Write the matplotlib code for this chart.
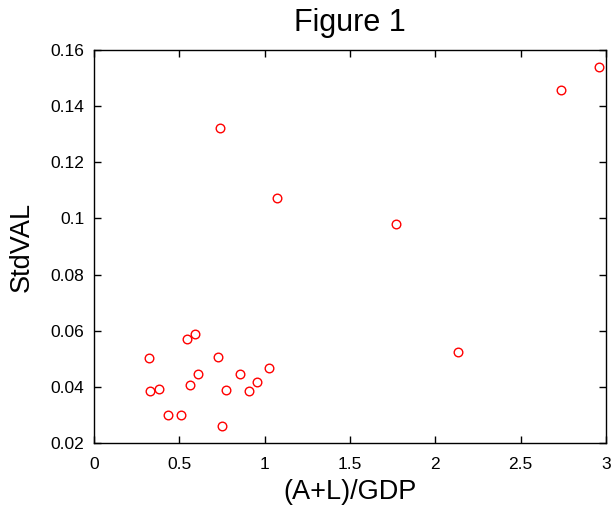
import matplotlib
matplotlib.use('Agg')
import matplotlib.pyplot as plt
import numpy as np

# (A+L)/GDP vs StdVAL
ratio = [0.324, 0.328, 0.381, 0.434, 0.512, 0.547, 0.592, 0.564, 0.609, 0.726, 0.771,
         0.752, 0.857, 0.908, 0.953, 1.027, 0.740, 1.072, 1.767, 2.131, 2.736, 2.958]
std_val = [0.0504, 0.0385, 0.0393, 0.0299, 0.0299, 0.0569, 0.0589, 0.0407, 0.0446, 0.0507, 0.0389,
           0.0259, 0.0445, 0.0385, 0.0418, 0.0466, 0.1321, 0.1074, 0.0980, 0.0524, 0.1458, 0.1541]

x_ticks = [0, 0.5, 1, 1.5, 2, 2.5, 3]
x_labels = ['0', '0.5', '1', '1.5', '2', '2.5', '3']
y_ticks = [0.02, 0.04, 0.06, 0.08, 0.1, 0.12, 0.14, 0.16]
y_labels = ['0.02', '0.04', '0.06', '0.08', '0.1', '0.12', '0.14', '0.16']

plt.rcParams['font.family'] = ['Liberation Sans', 'DejaVu Sans']

fig = plt.figure(figsize=(6.16, 5.12), dpi=100)
ax = fig.add_axes([0.1526, 0.1348, 0.8312, 0.7675])

ax.plot(ratio, std_val, linestyle='none', marker='o', markersize=6.2,
        markerfacecolor='none', markeredgecolor='#ff0000', markeredgewidth=1.0)

ax.set_xlim(0, 3)
ax.set_ylim(0.02, 0.16)
ax.set_xticks(x_ticks)
ax.set_xticklabels(x_labels)
ax.set_yticks(y_ticks)
ax.set_yticklabels(y_labels)
ax.tick_params(direction='in', top=True, right=True, labelsize=12.5, length=5, width=1)
ax.tick_params(axis='x', pad=10)
ax.tick_params(axis='y', pad=7)
for s in ax.spines.values():
    s.set_linewidth(1.0)

ax.set_xlabel('(A+L)/GDP', fontsize=19.5, labelpad=5)
ax.set_ylabel('StdVAL', fontsize=19.5, labelpad=11)
ax.set_title('Figure 1', fontsize=22, pad=14)

fig.savefig('out.png', dpi=100)
